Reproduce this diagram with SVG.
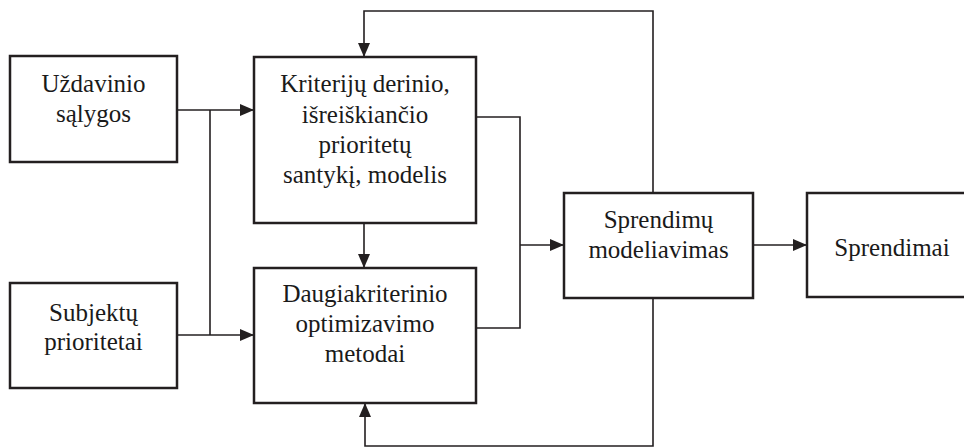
<svg xmlns="http://www.w3.org/2000/svg" width="964" height="448" viewBox="0 0 964 448">
  <defs>
    <marker id="arrow" markerUnits="userSpaceOnUse" markerWidth="14" markerHeight="12" refX="14" refY="6" orient="auto">
      <path d="M0,0 L14,6 L0,12 Z" fill="#231f20"/>
    </marker>
    <style>
      .box { fill: #ffffff; stroke: #231f20; stroke-width: 2.5; }
      .lbl { font-family: "Times New Roman", Times, "Liberation Serif", Tinos, "Noto Serif", "DejaVu Serif", FreeSerif, Georgia, serif; font-size: 25px; fill: #1a1a1a; text-anchor: middle; }
      .wire { fill: none; stroke: #231f20; stroke-width: 1.6; }
      .arrowed { marker-end: url(#arrow); }
    </style>
  </defs>
  <rect width="964" height="448" fill="#ffffff"/>

  <!-- connectors -->
  <g id="connectors">
    <path class="wire arrowed" d="M177,110 H254"/>
    <path class="wire" d="M210,110 V335"/>
    <path class="wire arrowed" d="M177,335 H254"/>
    <path class="wire arrowed" d="M364,223 V268"/>
    <path class="wire" d="M476,117 H520 V328 H476"/>
    <path class="wire arrowed" d="M520,245 H564"/>
    <path class="wire arrowed" d="M753,245 H807"/>
    <path class="wire arrowed" d="M653,193 V11 H364 V57"/>
    <path class="wire arrowed" d="M653,298 V446 H365 V403"/>
  </g>

  <!-- nodes -->
  <g id="uzdavinio-salygos">
    <rect class="box" x="10" y="56" width="167" height="106"/>
    <text class="lbl" x="93.5" y="92">Uždavinio</text>
    <text class="lbl" x="93.5" y="122">sąlygos</text>
  </g>
  <g id="subjektu-prioritetai">
    <rect class="box" x="10" y="283" width="167" height="105"/>
    <text class="lbl" x="93.5" y="321">Subjektų</text>
    <text class="lbl" x="93.5" y="350">prioritetai</text>
  </g>
  <g id="kriteriju-derinio-modelis">
    <rect class="box" x="254" y="57" width="222" height="166"/>
    <text class="lbl" x="365" y="92">Kriterijų derinio,</text>
    <text class="lbl" x="365" y="123">išreiškiančio</text>
    <text class="lbl" x="365" y="153">prioritetų</text>
    <text class="lbl" x="365" y="183">santykį, modelis</text>
  </g>
  <g id="daugiakriterinio-metodai">
    <rect class="box" x="254" y="268" width="222" height="135"/>
    <text class="lbl" x="365" y="302">Daugiakriterinio</text>
    <text class="lbl" x="365" y="332">optimizavimo</text>
    <text class="lbl" x="365" y="362">metodai</text>
  </g>
  <g id="sprendimu-modeliavimas">
    <rect class="box" x="564" y="193" width="189" height="105"/>
    <text class="lbl" x="658.5" y="228">Sprendimų</text>
    <text class="lbl" x="658.5" y="258">modeliavimas</text>
  </g>
  <g id="sprendimai">
    <rect class="box" x="807" y="193" width="162" height="104"/>
    <text class="lbl" x="892" y="256">Sprendimai</text>
  </g>
</svg>
